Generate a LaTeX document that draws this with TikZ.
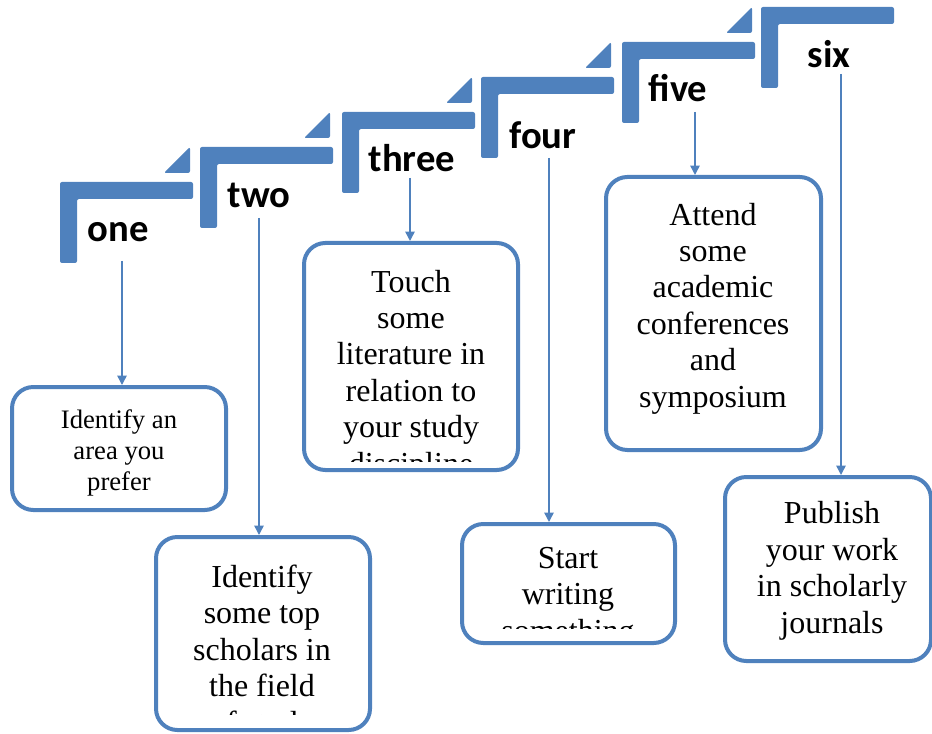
\documentclass[tikz,border=0pt]{standalone}
\usepackage{fontspec}
\setmainfont{Liberation Serif}
\newfontfamily\lblfont{Carlito}
\usetikzlibrary{arrows.meta,fit}
\definecolor{stepblue}{HTML}{4F81BD}
\begin{document}
\begin{tikzpicture}[x=0.75pt,y=-0.75pt,
  stepbar/.style={fill=stepblue, rounded corners=1.5pt},
  steplabel/.style={font=\lblfont\bfseries\fontsize{29}{34}\selectfont, anchor=base, inner sep=0},
  box/.style={draw=stepblue, line width=3pt, rounded corners=16pt, fill=white, inner sep=0},
  boxtext/.style={align=center, anchor=base, inner sep=0, font=\fontsize{24}{27.3}\selectfont},
  smalltext/.style={boxtext, font=\fontsize{20}{23.25}\selectfont},
  flow/.style={draw=stepblue, line width=1.1pt, -{Triangle[width=7pt,length=7pt]}}]
\useasboundingbox (0,0) rectangle (932,734);
% steps
\foreach \x/\y in {60/182, 200/147, 342/112, 481/77, 622/42, 761/7}{
  \fill[stepbar] (\x,\y) -- ++(133,0) -- ++(0,17) -- ++(-116,0) -- ++(0,64) -- ++(-17,0) -- cycle;
}
\foreach \x/\y in {60/182, 200/147, 342/112, 481/77, 622/42}{
  \fill[stepbar] (\x+104,\y-9) -- (\x+130,\y-35) -- (\x+130,\y-9) -- cycle;
}
% labels
\node[steplabel] (l1) at (118,242) {one};
\node[steplabel] (l2) at (259,208) {two};
\node[steplabel] (l3) at (412,172) {three};
\node[steplabel] (l4) at (543,149) {four};
\node[steplabel] (l5) at (678,102) {five};
\node[steplabel] (l6) at (829,68) {six};
% boxes
\node[box, fit={(12,387) (226,510)}] (b1) {};
\node[box, fit={(156,537) (370,730)}] (b2) {};
\node[box, fit={(304,243) (518,470)}] (b3) {};
\node[box, fit={(462,524) (675,643)}] (b4) {};
\node[box, fit={(606,177) (821,450)}] (b5) {};
\node[box, fit={(725,477) (931,661)}] (b6) {};
% texts (anchor=base is the baseline of the last line)
\node[smalltext] (t1) at (119,490) {Identify an\\area you\\prefer};
\begin{scope}
\clip (156,537) rectangle (370,714);
\node[boxtext] (t2) at (262,733) {Identify\\some top\\scholars in\\the field\\of study};
\end{scope}
\begin{scope}
\clip (304,243) rectangle (518,461);
\node[boxtext] (t3) at (411,474) {Touch\\some\\literature in\\relation to\\your study\\discipline};
\end{scope}
\begin{scope}
\clip (462,524) rectangle (675,628);
\node[boxtext] (t4) at (568,641) {Start\\writing\\something};
\end{scope}
\node[boxtext] (t5) at (713,407) {Attend\\some\\academic\\conferences\\and\\symposium};
\node[boxtext] (t6) at (832,633) {Publish\\your work\\in scholarly\\journals};
% arrows
\coordinate (a1) at (122,261);
\coordinate (a2) at (259,218);
\coordinate (a3) at (410,178);
\coordinate (a4) at (549,158);
\coordinate (a5) at (695,112);
\coordinate (a6) at (841,74);
\draw[flow] (a1) -- (a1 |- b1.north);
\draw[flow] (a2) -- (a2 |- b2.north);
\draw[flow] (a3) -- (a3 |- b3.north);
\draw[flow] (a4) -- (a4 |- b4.north);
\draw[flow] (a5) -- (a5 |- b5.north);
\draw[flow] (a6) -- (a6 |- b6.north);
\end{tikzpicture}
\end{document}
